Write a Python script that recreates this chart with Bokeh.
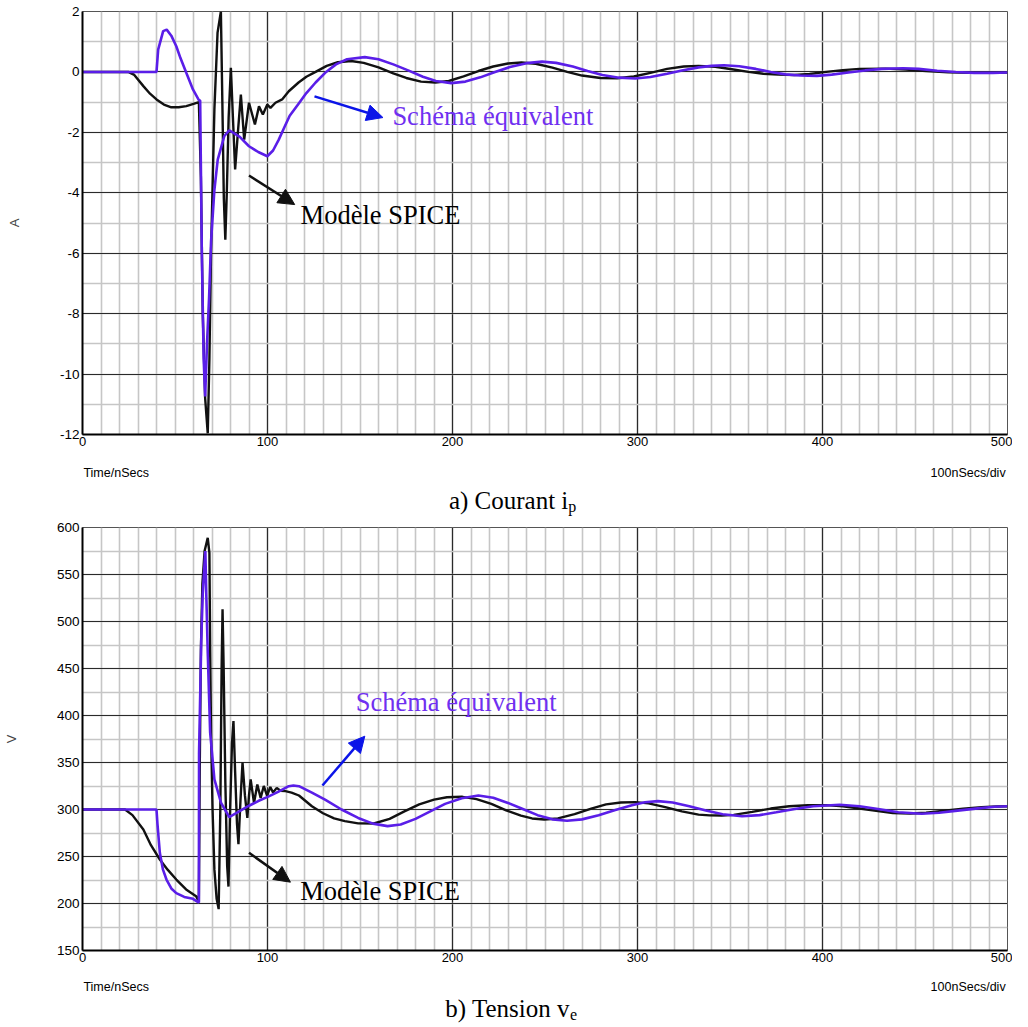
from bokeh.plotting import figure
from bokeh.models import Range1d, SingleIntervalTicker, Label, Arrow, NormalHead
from bokeh.layouts import column
from bokeh.core.properties import value
from bokeh.embed import file_html
from bokeh.resources import INLINE

# ---------------- data: a) current i_p (A) ----------------
ip_spice_t = [0, 24.7, 28, 32.9, 36.5, 40, 44, 48, 52, 56.1, 60, 62.9, 64, 65, 66.3, 67.7, 68.6,
              69.5, 71.3, 73, 74.8, 75.6, 76.4, 77.2, 78, 79, 80.2, 81.3, 82.5, 84, 85.6, 87.4,
              90, 93.2, 95.4, 97.5, 99.9, 101.6, 104.3, 107.9, 111.5, 116.8, 121, 126, 132, 138,
              145.2, 152, 160, 168, 175, 183, 190.7, 198, 206, 214, 222, 230, 237.3, 245, 254,
              262, 270, 280, 289, 298, 307, 316, 325, 333, 342, 351, 360, 368, 376, 384.8, 393,
              402, 411, 420, 434, 445, 456, 468, 480, 490, 500]
ip_spice = [0, 0, -0.1, -0.47, -0.72, -0.91, -1.08, -1.17, -1.17, -1.13, -1.06, -1.0, -3.5, -8,
            -10.8, -11.96, -9.5, -5.9, -1.24, 1.3, 2.0, -1.0, -4.2, -5.55, -4.0, -1.5, 0.14, -1.5,
            -3.23, -2.0, -0.75, -2.24, -1.02, -1.74, -1.14, -1.41, -1.08, -1.19, -1.02, -0.91,
            -0.64, -0.35, -0.16, 0.0, 0.2, 0.32, 0.36, 0.3, 0.15, -0.05, -0.2, -0.32, -0.35,
            -0.3, -0.15, 0.03, 0.18, 0.28, 0.31, 0.27, 0.14, 0.0, -0.12, -0.2, -0.21, -0.15,
            -0.03, 0.1, 0.18, 0.2, 0.17, 0.09, 0.0, -0.06, -0.09, -0.1, -0.07, 0.0, 0.06, 0.1,
            0.11, 0.08, 0.03, -0.01, -0.03, -0.03, -0.02]

ip_equiv_t = [0, 40, 40.9, 43.6, 45.5, 48, 50.7, 53, 56.1, 59.7, 62.9, 63.6, 64.5, 65.5, 66.3,
              67.3, 68.4, 69.5, 71.3, 73.1, 76.6, 79.3, 85, 90, 95, 99.9, 103, 106.1, 109, 112,
              116.8, 121, 126, 131.7, 137, 143, 152.6, 160, 168, 176, 184, 191, 199.3, 207, 215,
              223, 231, 240, 248.4, 256, 265, 273, 281, 290, 298.8, 307, 316, 324, 333, 340,
              346.7, 355, 364, 372, 380, 388, 397, 405, 414, 423, 432, 443.7, 452, 462, 472, 482,
              492, 500]
ip_equiv = [0, 0, 0.74, 1.35, 1.4, 1.2, 0.85, 0.45, -0.03, -0.58, -0.93, -0.95, -6, -9.5, -10.74,
            -9.0, -7.5, -5.6, -3.9, -2.9, -2.13, -1.93, -2.15, -2.46, -2.65, -2.79, -2.6, -2.24,
            -1.85, -1.45, -1.05, -0.7, -0.35, 0.0, 0.25, 0.42, 0.49, 0.42, 0.25, 0.05, -0.16, -0.3,
            -0.37, -0.32, -0.18, 0.0, 0.16, 0.29, 0.34, 0.3, 0.18, 0.03, -0.1, -0.19, -0.22,
            -0.17, -0.06, 0.05, 0.15, 0.2, 0.22, 0.19, 0.1, 0.0, -0.08, -0.12, -0.13, -0.09,
            -0.02, 0.05, 0.1, 0.12, 0.1, 0.04, 0.0, -0.03, -0.03, -0.02]

# ---------------- data: b) voltage v_e (V) ----------------
ve_spice_t = [0, 23, 27, 32.9, 37, 41.8, 46, 50.7, 56, 61.4, 62.9, 63.4, 64, 64.8, 66, 67.7,
              68.6, 69, 69.5, 70.3, 71.3, 72.5, 73.6, 74.5, 75.2, 75.7, 76.3, 77.2, 78.2, 78.9,
              79.8, 80.8, 81.6, 82.5, 83.5, 84.3, 85.4, 86.5, 87.8, 89.1, 90, 90.9, 92.7, 94.5,
              96.3, 98, 99.8, 101.5, 103, 105, 107, 109.7, 113, 117, 124, 130, 136, 141.8, 149,
              157.5, 166, 174, 182, 190, 197, 205.4, 213, 221, 229, 237, 243, 249.6, 257, 266,
              275, 283, 291, 298.8, 306, 315, 324, 333, 339, 345.5, 352, 362, 372, 382, 392, 402,
              411, 420, 429, 438, 447.4, 456, 466, 476, 486, 494, 500]
ve_spice = [300, 300, 294, 278.7, 262, 246.8, 236, 225.5, 215, 207.8, 202, 350, 470, 540, 575,
            589, 573, 470, 380, 300, 236, 205, 194, 300, 450, 513, 450, 330, 240, 218, 300, 370,
            394, 340, 285, 263, 310, 350, 315, 291, 315, 332, 307, 326.6, 312.4, 325, 314.5,
            324, 318, 323, 320, 319.5, 318, 314.9, 303.5, 296, 290.5, 287.6, 285.2, 285.1, 290,
            298, 305.5, 310.5, 313, 313.5, 311, 306, 299, 293.5, 290.5, 289.4, 290.5, 295, 301,
            305.5, 307.5, 307.8, 306.5, 302.5, 298, 294.5, 293.8, 293.6, 294.3, 297.5, 301,
            303.5, 304.5, 304.6, 303.5, 301, 298.5, 296.3, 295.7, 296.5, 298.6, 300.8, 302.5,
            303.2, 303.5]

ve_equiv_t = [0, 40, 40.5, 41.8, 43.5, 45.4, 48, 50.7, 55, 59.7, 62.9, 63.0, 64.2, 65, 66.4,
              66.9, 67.7, 69, 71.3, 74.9, 79.3, 84.7, 90, 95, 100.7, 106, 111.5, 114, 117, 124,
              131.1, 140, 149, 157, 164.9, 172, 180, 188, 196, 205, 214, 222, 230, 238, 246, 254,
              261.9, 270, 279, 288, 297, 304, 311, 319, 328, 337, 346, 356.5, 366, 375, 385, 395,
              409.3, 420, 430, 441, 453.6, 463, 473, 484, 493, 500]
ve_equiv = [300, 300, 285, 254, 236, 225.5, 216, 211, 207, 205, 201, 360, 480, 530, 575, 530, 467,
            382, 332, 307, 292, 298, 304, 309, 314, 319, 324.8, 325.5, 324.8, 318, 310.6, 300,
            291, 285, 282.3, 284, 290, 298, 306, 312, 314.9, 312.5, 307, 300.5, 294, 289.5, 288,
            289.5, 294, 299.5, 304.5, 307.7, 308.9, 307.5, 303.5, 299, 295, 292.9, 294, 297,
            300.5, 303.5, 305, 303.5, 300.5, 297, 295.4, 296.5, 298.8, 301.2, 303, 303.5]

ip_ticks = [2, 0, -2, -4, -6, -8, -10, -12]
ve_ticks = [600, 550, 500, 450, 400, 350, 300, 250, 200, 150]
time_label = "Time/nSecs"
div_label = "100nSecs/div"
caption_a = ["a) Courant i", "p"]
caption_b = ["b) Tension v", "e"]
note_equiv = "Schéma équivalent"
note_spice = "Modèle SPICE"

BLACK = "#111111"
PURPLE = "#5a1ee8"
TEXT_PURPLE = "#7030f0"
BLUE = "#0b14e8"
SANS = "Liberation Sans"
SERIF = "Liberation Serif"
W = 1012


def make_fig(height, top, bottom, yr, ymajor, label, ticks):
    p = figure(width=W, height=height, output_backend="svg", toolbar_location=None,
               x_range=Range1d(0, 500), y_range=Range1d(*yr),
               min_border_left=74, min_border_right=5, min_border_top=top,
               min_border_bottom=bottom)
    p.background_fill_color = "white"
    p.border_fill_color = "white"
    p.outline_line_color = "#555555"
    p.outline_line_width = 1
    p.xaxis.ticker = SingleIntervalTicker(interval=100, num_minor_ticks=10)
    p.yaxis.ticker = SingleIntervalTicker(interval=ymajor, num_minor_ticks=2)
    p.xgrid.ticker = p.xaxis.ticker
    p.ygrid.ticker = p.yaxis.ticker
    for g in (p.xgrid, p.ygrid):
        g.grid_line_color = "#2a2a2a"
        g.grid_line_width = 1.2
        g.minor_grid_line_color = "#c6c6c6"
        g.minor_grid_line_width = 1.6
    for ax in (p.xaxis, p.yaxis):
        ax.axis_line_color = "black"
        ax.axis_line_width = 2
        ax.major_tick_out = 0
        ax.major_tick_in = 0
        ax.minor_tick_out = 0
        ax.minor_tick_in = 0
        ax.major_label_text_font = SANS
        ax.major_label_text_color = "black"
    p.yaxis.major_label_overrides = {t: str(t) for t in ticks}
    p.xaxis.major_label_text_font_size = "13px"
    p.xaxis.major_label_standoff = 2
    p.yaxis.major_label_text_font_size = "13.5px"
    p.yaxis.major_label_standoff = 3
    p.yaxis.axis_label = label
    p.yaxis.axis_label_text_font = SANS
    p.yaxis.axis_label_text_font_style = "normal"
    p.yaxis.axis_label_text_font_size = "13px"
    p.yaxis.axis_label_standoff = 35
    return p


def make_caption(height, y_time, y_cap, y_sub, x_cap, cap):
    c = figure(width=W, height=height, output_backend="svg", toolbar_location=None,
               x_range=Range1d(0, 500), y_range=Range1d(0, height),
               x_axis_location=None, y_axis_location=None,
               min_border_left=74, min_border_right=5, min_border_top=0, min_border_bottom=0)
    c.outline_line_color = None
    c.xgrid.visible = False
    c.ygrid.visible = False
    c.text(x=[0.5], y=[y_time], text=[time_label], text_font=value(SANS),
           text_font_size=value("12.5px"), text_align="left", text_baseline="middle",
           text_color="black")
    c.text(x=[499], y=[y_time], text=[div_label], text_font=value(SANS),
           text_font_size=value("12.5px"), text_align="right", text_baseline="middle",
           text_color="black")
    c.text(x=[x_cap], y=[y_cap], text=[cap[0]], text_font=value(SERIF),
           text_font_size=value("25px"), text_align="right", text_baseline="middle",
           text_color="black")
    c.text(x=[x_cap], y=[y_sub], text=[cap[1]], text_font=value(SERIF),
           text_font_size=value("16px"), text_align="left", text_baseline="middle",
           text_color="black")
    return c


def note(p, x, y, text, color):
    p.add_layout(Label(x=x, y=y, text=text, text_font=SERIF, text_font_size="26.5px",
                       text_color=color, text_baseline="middle", text_align="left"))


def arrow(p, x0, y0, x1, y1, color):
    p.add_layout(Arrow(end=NormalHead(size=16, fill_color=color, line_color=color),
                       x_start=x0, y_start=y0, x_end=x1, y_end=y1,
                       line_color=color, line_width=2.5))


# ---------- figure a ----------
p1 = make_fig(456, 11, 22, (-12, 2), 2, "A", ip_ticks)
p1.line(ip_spice_t, ip_spice, line_color=BLACK, line_width=2.4)
p1.line(ip_equiv_t, ip_equiv, line_color=PURPLE, line_width=2.6)
arrow(p1, 125.4, -0.81, 162.4, -1.51, BLUE)
note(p1, 167.5, -1.46, note_equiv, TEXT_PURPLE)
arrow(p1, 90.0, -3.43, 114.7, -4.39, BLACK)
note(p1, 117.9, -4.72, note_spice, "black")

c1 = make_caption(60, 44, 16.5, 10.4, 262.6, caption_a)

# ---------- figure b ----------
p2 = make_fig(456, 11, 22, (150, 600), 50, "V", ve_ticks)
p2.line(ve_spice_t, ve_spice, line_color=BLACK, line_width=2.4)
p2.line(ve_equiv_t, ve_equiv, line_color=PURPLE, line_width=2.6)
arrow(p2, 129.7, 325.5, 152.6, 378, BLUE)
note(p2, 147.7, 414.1, note_equiv, TEXT_PURPLE)
arrow(p2, 90.0, 253.9, 112.4, 222.7, BLACK)
note(p2, 117.7, 213, note_spice, "black")

c2 = make_caption(54, 40, 18, 12, 263.5, caption_b)

layout = column(p1, c1, p2, c2, spacing=0)
open("out.html", "w").write(file_html(layout, INLINE))
